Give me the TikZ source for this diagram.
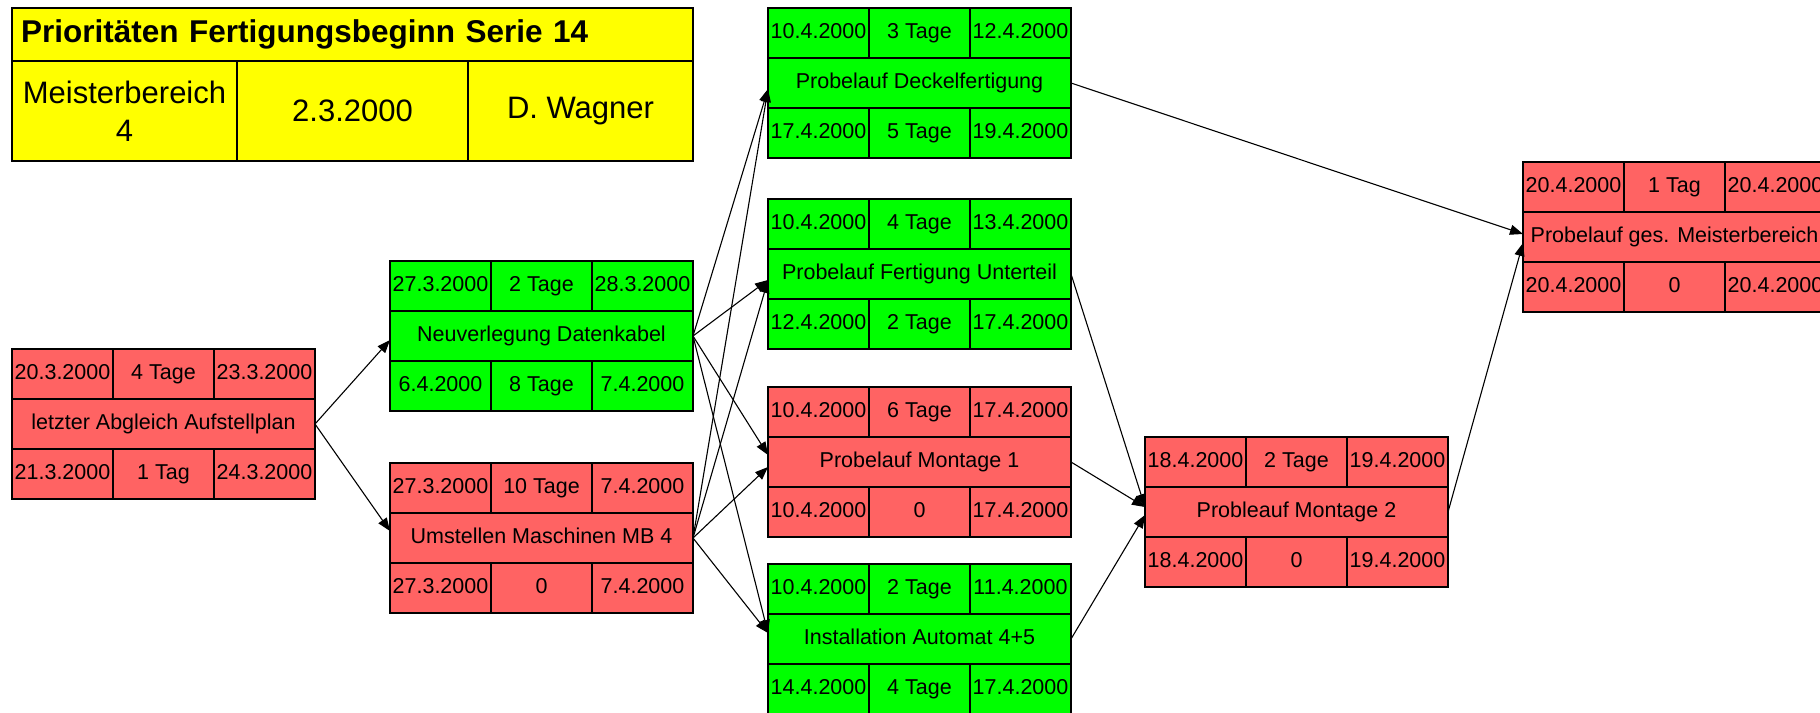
\documentclass[tikz,border=0pt]{standalone}
\usepackage{fontspec}
\setmainfont{Liberation Sans}
\usetikzlibrary{arrows.meta}
\definecolor{grn}{RGB}{0,255,0}
\definecolor{rd}{RGB}{255,99,99}
\definecolor{ylw}{RGB}{255,255,0}
\tikzset{
 cell/.style={draw=black, line width=1.3pt, minimum width=101pt, minimum height=50pt, inner sep=0pt, outer sep=0pt, text height=15.5pt, text depth=4.5pt, font=\fontsize{21.5}{24}\selectfont},
 midcell/.style={cell, minimum width=303pt},
 hdrcell/.style={draw=black, line width=1.3pt, fill=ylw, minimum height=100pt, inner sep=0pt, outer sep=0pt, align=center, font=\fontsize{31}{38}\selectfont},
 conn/.style={draw=black, line width=1.1pt, -{Triangle[length=13pt,width=10pt]}},
}
\newcommand\tasktop[8]{%
 \node[cell,fill=#4,anchor=north west] (#1-tl) at (#2,#3) {#5};
 \node[cell,fill=#4,anchor=north west] (#1-tm) at (#1-tl.north east) {#6};
 \node[cell,fill=#4,anchor=north west] (#1-tr) at (#1-tm.north east) {#7};
 \node[midcell,fill=#4,anchor=north west] (#1) at (#1-tl.south west) {#8};
}
\newcommand\taskbot[5]{%
 \node[cell,fill=#2,anchor=north west] (#1-bl) at (#1.south west) {#3};
 \node[cell,fill=#2,anchor=north west] (#1-bm) at (#1-bl.north east) {#4};
 \node[cell,fill=#2,anchor=north west] (#1-br) at (#1-bm.north east) {#5};
}
\begin{document}
\begin{tikzpicture}[x=1pt,y=-1pt]
\useasboundingbox[fill=white] (0,0) rectangle (1820,712);

% header
\node[draw=black, line width=1.3pt, fill=ylw, anchor=north west, minimum width=681pt, minimum height=53pt, inner xsep=9pt, inner ysep=0pt, outer sep=0pt, text width=663pt, align=left, font=\bfseries\fontsize{31.5}{36}\selectfont] (hdr) at (12,8) {Prioritäten Fertigungsbeginn Serie 14};
\node[hdrcell, minimum width=225pt, anchor=north west] (h1) at (hdr.south west) {Meisterbereich\\4};
\node[hdrcell, minimum width=231pt, anchor=north west] (h2) at (h1.north east) {2.3.2000};
\node[hdrcell, minimum width=225pt, anchor=north west] (h3) at (h2.north east) {D. Wagner};

% tasks
\tasktop{A}{12}{349}{rd}{20.3.2000}{4 Tage}{23.3.2000}{letzter Abgleich Aufstellplan}
\taskbot{A}{rd}{21.3.2000}{1 Tag}{24.3.2000}

\tasktop{B}{390}{261}{grn}{27.3.2000}{2 Tage}{28.3.2000}{Neuverlegung Datenkabel}
\taskbot{B}{grn}{6.4.2000}{8 Tage}{7.4.2000}

\tasktop{C}{390}{463}{rd}{27.3.2000}{10 Tage}{7.4.2000}{Umstellen Maschinen MB 4}
\taskbot{C}{rd}{27.3.2000}{0}{7.4.2000}

\tasktop{D}{768}{8}{grn}{10.4.2000}{3 Tage}{12.4.2000}{Probelauf Deckelfertigung}
\taskbot{D}{grn}{17.4.2000}{5 Tage}{19.4.2000}

\tasktop{E}{768}{199}{grn}{10.4.2000}{4 Tage}{13.4.2000}{Probelauf Fertigung Unterteil}
\taskbot{E}{grn}{12.4.2000}{2 Tage}{17.4.2000}

\tasktop{F}{768}{387}{rd}{10.4.2000}{6 Tage}{17.4.2000}{Probelauf Montage 1}
\taskbot{F}{rd}{10.4.2000}{0}{17.4.2000}

\tasktop{G}{768}{564}{grn}{10.4.2000}{2 Tage}{11.4.2000}{Installation Automat 4+5}
\taskbot{G}{grn}{14.4.2000}{4 Tage}{17.4.2000}

\tasktop{H}{1145}{437}{rd}{18.4.2000}{2 Tage}{19.4.2000}{Probleauf Montage 2}
\taskbot{H}{rd}{18.4.2000}{0}{19.4.2000}

\tasktop{I}{1523}{162}{rd}{20.4.2000}{1 Tag}{20.4.2000}{Probelauf ges. Meisterbereich}
\taskbot{I}{rd}{20.4.2000}{0}{20.4.2000}

% connectors
\draw[conn] (A.east) -- ([yshift=-4pt]B.west);
\draw[conn] (A.east) -- ([yshift=7pt]C.west);
\draw[conn] (B.east) -- ([yshift=-6pt]D.west);
\draw[conn] (C.east) -- ([yshift=-6pt]D.west);
\draw[conn] (B.east) -- ([yshift=-6pt]E.west);
\draw[conn] (C.east) -- ([yshift=-6pt]E.west);
\draw[conn] (B.east) -- ([yshift=7pt]F.west);
\draw[conn] (C.east) -- ([yshift=-5pt]F.west);
\draw[conn] (B.east) -- ([yshift=6pt]G.west);
\draw[conn] (C.east) -- ([yshift=6pt]G.west);
\draw[conn] (D.east) -- ([yshift=3pt]I.west);
\draw[conn] (H.east) -- ([yshift=-6pt]I.west);
\draw[conn] (E.east) -- ([yshift=5pt]H.west);
\draw[conn] (F.east) -- ([yshift=5pt]H.west);
\draw[conn] (G.east) -- ([yshift=-3pt]H.west);
\end{tikzpicture}
\end{document}
